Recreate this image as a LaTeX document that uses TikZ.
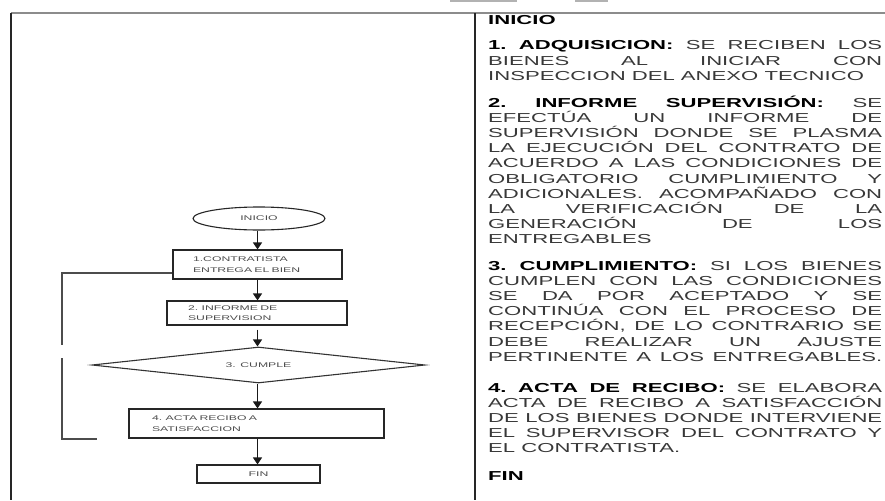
\documentclass[tikz,border=0pt]{standalone}
\usepackage{fontspec}
\setmainfont[FakeStretch=1.7]{Liberation Sans}
\newfontfamily\fcfont[FakeStretch=1.8]{Liberation Sans}
\usetikzlibrary{shapes.geometric,arrows.meta}
\newcommand\jl[1]{\hbox to \hsize{#1}}
\newcommand\lastl[1]{\hbox{#1}}
\newcommand\hd[1]{\textbf{\textcolor{black}{#1}}}
\begin{document}
\begin{tikzpicture}[x=1pt,y=-1pt,
  fcfontstyle/.style={font=\fcfont\fontsize{6.8}{10.5}\selectfont, text=black!70},
  fbox/.style={fcfontstyle, draw=black!85, line width=1.2pt, rectangle, inner ysep=0pt, align=left},
  arr/.style={draw=black!90, line width=1.3pt, -{Triangle[width=9pt,length=7pt]}},
  fb/.style={draw=black!70, line width=1.2pt},
  para/.style={anchor=base west, inner sep=0pt, text=black!78, font=\fontsize{13}{15.2}\selectfont\frenchspacing},
]
\useasboundingbox (0,0) rectangle (885,500);
% table frame
\fill[black!30] (450,0) rectangle (517,2.5);
\fill[black!30] (575,0) rectangle (608,2.5);
\draw[black!45, line width=1.5pt] (11,13) -- (885,13);
\draw[black!85, line width=1.8pt] (11,13) -- (11,500);
\draw[black!85, line width=1.8pt] (475,13) -- (475,500);

% flowchart
\node[ellipse, draw=black!85, line width=1.1pt, minimum width=132pt, minimum height=23pt, inner sep=0pt, fcfontstyle] (ini) at (259,218.5) {INICIO};
\node[fbox, text width=129pt, inner xsep=20pt, minimum height=29pt] (b1) at (257.5,264.5) {1.CONTRATISTA\\ENTREGA EL BIEN};
\node[fbox, text width=138pt, inner xsep=21pt, minimum height=24pt] (b2) at (257,313) {2. INFORME DE\\SUPERVISION};
\node[diamond, draw=black!80, line width=1.1pt, minimum width=333pt, minimum height=36pt, shape aspect=9.25, inner sep=0pt, fcfontstyle] (dec) at (258.5,365) {3. CUMPLE};
\node[fbox, text width=209pt, inner xsep=23pt, minimum height=29pt] (b4) at (256.5,423.5) {4. ACTA RECIBO A\\SATISFACCION};
\node[fbox, align=center, minimum width=123pt, minimum height=18pt, inner xsep=0pt] (fin) at (258.5,474) {FIN};

\coordinate (ax) at (257.5,0);
\draw[arr] (ax |- ini.south) -- (ax |- b1.north);
\draw[arr] (ax |- b1.south) -- (ax |- b2.north);
\draw[arr, shorten <=4pt] (ax |- b2.south) -- (ax |- dec.north);
\draw[arr] (ax |- dec.south) -- (ax |- b4.north);
\draw[arr] (ax |- b4.south) -- (ax |- fin.north);

\coordinate (fbA) at (62,273);
\coordinate (fbG1) at (62,345);
\coordinate (fbG2) at (62,358);
\coordinate (fbB) at (62,439);
\coordinate (fbE) at (97,439);
\draw[fb] (b1.west |- fbA) -- (fbA) -- (fbG1);
\draw[fb] (fbG2) -- (fbB) -- (fbE);

% text column
\node[para] (t0) at (488,25) {\parbox[t]{394pt}{\hd{INICIO}}};
\node[para] (t1) at (488,50) {\parbox[t]{394pt}{%
\jl{\hd{1. ADQUISICION:} SE RECIBEN LOS}
\jl{BIENES AL INICIAR CON}
\lastl{INSPECCION DEL ANEXO TECNICO}}};
\node[para] (t2) at (488,107) {\parbox[t]{394pt}{%
\jl{\hd{2. INFORME SUPERVISIÓN:} SE}
\jl{EFECTÚA UN INFORME DE}
\jl{SUPERVISIÓN DONDE SE PLASMA}
\jl{LA EJECUCIÓN DEL CONTRATO DE}
\jl{ACUERDO A LAS CONDICIONES DE}
\jl{OBLIGATORIO CUMPLIMIENTO Y}
\jl{ADICIONALES. ACOMPAÑADO CON}
\jl{LA VERIFICACIÓN DE LA}
\jl{GENERACIÓN DE LOS}
\lastl{ENTREGABLES}}};
\node[para] (t3) at (488,270) {\parbox[t]{394pt}{%
\jl{\hd{3. CUMPLIMIENTO:} SI LOS BIENES}
\jl{CUMPLEN CON LAS CONDICIONES}
\jl{SE DA POR ACEPTADO Y SE}
\jl{CONTINÚA CON EL PROCESO DE}
\jl{RECEPCIÓN, DE LO CONTRARIO SE}
\jl{DEBE REALIZAR UN AJUSTE}
\jl{PERTINENTE A LOS ENTREGABLES.}}};
\node[para] (t4) at (488,392) {\parbox[t]{394pt}{%
\jl{\hd{4. ACTA DE RECIBO:} SE ELABORA}
\jl{ACTA DE RECIBO A SATISFACCIÓN}
\jl{DE LOS BIENES DONDE INTERVIENE}
\jl{EL SUPERVISOR DEL CONTRATO Y}
\lastl{EL CONTRATISTA.}}};
\node[para] (t5) at (488,480) {\parbox[t]{394pt}{\hd{FIN}}};
\end{tikzpicture}
\end{document}
